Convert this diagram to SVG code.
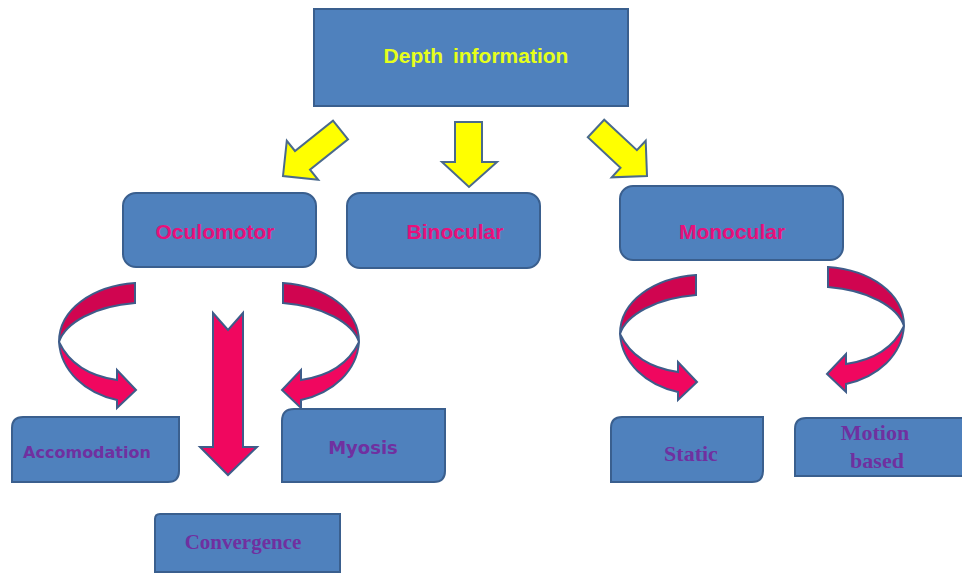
<svg xmlns="http://www.w3.org/2000/svg" width="962" height="573" viewBox="0 0 962 573">
<style>
.box{fill:#4F81BD;stroke:#3A5F8E;stroke-width:2}
.yarrow{fill:#FFFF00;stroke:#4A6A8C;stroke-width:2;stroke-linejoin:miter}
.rarrow{fill:#F0075F;stroke:#3E5C8A;stroke-width:2;stroke-linejoin:miter}
.rdark{fill:#D00550;stroke:#3E5C8A;stroke-width:2}
.t1{font-family:"Liberation Sans",Arial,sans-serif;font-weight:bold;font-size:21px;fill:#E6FF1A;text-anchor:middle}
.t2{font-family:"Liberation Sans",Arial,sans-serif;font-weight:bold;font-size:21px;fill:#E8107A;text-anchor:middle}
.t3{font-family:"DejaVu Sans",Verdana,sans-serif;font-weight:bold;fill:#7030A0;text-anchor:middle}
.t4{font-family:"Liberation Serif","Times New Roman",serif;font-weight:bold;fill:#7030A0;text-anchor:middle}
</style>
<defs>
<g id="curl">
<path class="rdark" d="M0,0 C-42,3 -76,26 -76,59 C-70,40 -40,23 0,20 Z"/>
<path class="rarrow" d="M-76,59 C-74,88 -50,110 -18,117 L-18,125 L1,107 L-18,87 L-18,97 C-46,93 -66,80 -76,59 Z"/>
</g>
</defs>
<rect width="962" height="573" fill="#FFFFFF"/>
<g id="connectors">
<polygon class="yarrow" points="333,120.7 348,139.3 310,169.6 318.2,179.8 283,176 286.8,140.8 295,151"/>
<polygon class="yarrow" points="455,122 482,122 482,162 497,162 469,187 442,162 455,162"/>
<polygon class="yarrow" points="604.2,119.7 587.8,137.3 620.5,167.8 611.7,177.3 647,176 645.7,140.7 636.9,150.2"/>
<use href="#curl" transform="translate(135,283)"/>
<use href="#curl" transform="translate(283,283) scale(-1,1)"/>
<polygon class="rarrow" points="213,313 228,330 243,313 243,447 257,447 228,475 200,447 213,447"/>
<use href="#curl" transform="translate(696,275)"/>
<use href="#curl" transform="translate(828,267) scale(-1,1)"/>
</g>
<g id="depth">
<rect class="box" x="314" y="9" width="314" height="97"/>
<text class="t1" x="476" y="63" word-spacing="4">Depth information</text>
</g>
<g id="oculomotor">
<rect class="box" x="123" y="193" width="193" height="74" rx="13"/>
<text class="t2" x="215" y="239">Oculomotor</text>
</g>
<g id="binocular">
<rect class="box" x="347" y="193" width="193" height="75" rx="13"/>
<text class="t2" x="455" y="239">Binocular</text>
</g>
<g id="monocular">
<rect class="box" x="620" y="186" width="223" height="74" rx="13"/>
<text class="t2" x="732" y="239">Monocular</text>
</g>
<g id="accomodation">
<path class="box" d="M12,482 L12,428 Q12,417 23,417 L179,417 L179,471 Q179,482 168,482 Z"/>
<text class="t3" x="87" y="458" font-size="16">Accomodation</text>
</g>
<g id="myosis">
<path class="box" d="M282,482 L282,421 Q282,409 294,409 L445,409 L445,471 Q445,482 434,482 Z"/>
<text class="t3" x="363" y="454" font-size="18">Myosis</text>
</g>
<g id="convergence">
<path class="box" d="M155,572 L155,519 Q155,514 160,514 L340,514 L340,572 Z"/>
<text class="t4" x="243" y="549" font-size="21">Convergence</text>
</g>
<g id="static">
<path class="box" d="M611,482 L611,428 Q611,417 622,417 L763,417 L763,471 Q763,482 752,482 Z"/>
<text class="t4" x="691" y="461" font-size="22">Static</text>
</g>
<g id="motion">
<path class="box" d="M795,476 L795,429 Q795,418 806,418 L963,418 L963,476 Z"/>
<text class="t4" x="875" y="440" font-size="22">Motion</text>
<text class="t4" x="877" y="468" font-size="22">based</text>
</g>
</svg>
